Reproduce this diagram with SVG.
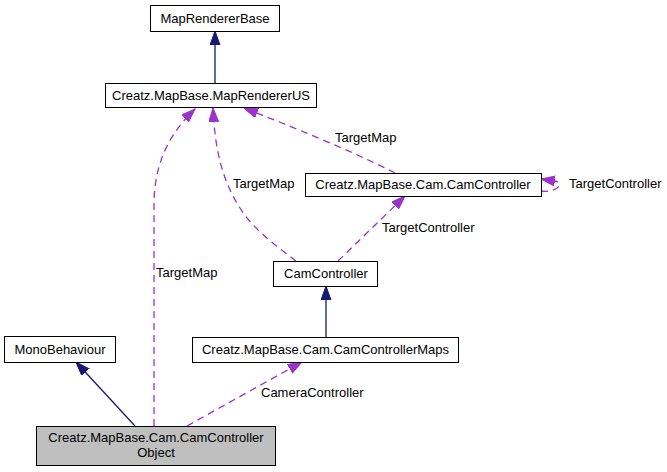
<svg xmlns="http://www.w3.org/2000/svg" width="667" height="472" viewBox="0 0 667 472">
<style>
  .box rect { fill: #ffffff; stroke: #000000; stroke-width: 1; }
  .box.cur rect { fill: #bfbfbf; }
  text { font-family: "Liberation Sans", Arial, sans-serif; font-size: 13px; fill: #000000; }
  .node text { text-anchor: middle; }
  .inh { fill: none; stroke: #191970; stroke-width: 1.3; }
  .use { fill: none; stroke: #9a32cd; stroke-width: 1.3; stroke-dasharray: 7,5; }
</style>
<defs>
  <marker id="ah-blue" markerUnits="userSpaceOnUse" markerWidth="16" markerHeight="12" refX="14" refY="5" orient="auto">
    <path d="M0,0 L14,5 L0,10 z" fill="#191970" stroke="#191970" stroke-width="1"/>
  </marker>
  <marker id="ah-purple" markerUnits="userSpaceOnUse" markerWidth="16" markerHeight="12" refX="14" refY="5" orient="auto">
    <path d="M0,0 L14,5 L0,10 z" fill="#9a32cd" stroke="#9a32cd" stroke-width="1"/>
  </marker>
</defs>
<rect width="667" height="472" fill="#ffffff"/>

<g id="connectors">
  <path class="inh" d="M215,83 L215,31" marker-end="url(#ah-blue)"/>
  <path class="inh" d="M326,337 L326,286" marker-end="url(#ah-blue)"/>
  <path class="inh" d="M135,426 L76,362" marker-end="url(#ah-blue)"/>
  <path class="use" d="M154,426 L154,205 C154,165 168,135 195,109" marker-end="url(#ah-purple)"/>
  <path class="use" d="M296,261 C276,246 252,228 240,208 C222,180 215,150 213,108" marker-end="url(#ah-purple)"/>
  <path class="use" d="M395,173 C350,150 290,126 244,108" marker-end="url(#ah-purple)"/>
  <path class="use" d="M338,261 L405,196" marker-end="url(#ah-purple)"/>
  <path class="use" d="M187,426 L302,362" marker-end="url(#ah-purple)"/>
  <path class="use" d="M541,191 C555,193 566,184 555,181 L541,179" marker-end="url(#ah-purple)"/>
  <text x="156" y="277">TargetMap</text>
  <text x="233" y="188">TargetMap</text>
  <text x="335" y="142">TargetMap</text>
  <text x="569" y="188">TargetController</text>
  <text x="382" y="232">TargetController</text>
  <text x="261" y="397">CameraController</text>
</g>

<g id="MapRendererBase" class="node box">
  <rect x="150.5" y="5.5" width="129" height="26"/>
  <text x="215" y="23">MapRendererBase</text>
</g>
<g id="MapRendererUS" class="node box">
  <rect x="105.5" y="83.5" width="211" height="24"/>
  <text x="211" y="100">Creatz.MapBase.MapRendererUS</text>
</g>
<g id="CreatzCamController" class="node box">
  <rect x="305.5" y="173.5" width="236" height="23"/>
  <text x="423" y="189">Creatz.MapBase.Cam.CamController</text>
</g>
<g id="CamController" class="node box">
  <rect x="273.5" y="261.5" width="104" height="25"/>
  <text x="326" y="278">CamController</text>
</g>
<g id="CamControllerMaps" class="node box">
  <rect x="192.5" y="337.5" width="266" height="25"/>
  <text x="325.5" y="354">Creatz.MapBase.Cam.CamControllerMaps</text>
</g>
<g id="MonoBehaviour" class="node box">
  <rect x="4.5" y="336.5" width="111" height="26"/>
  <text x="60" y="354">MonoBehaviour</text>
</g>
<g id="CamControllerObject" class="node box cur">
  <rect x="36.5" y="426.5" width="239" height="39"/>
  <text x="156" y="442">Creatz.MapBase.Cam.CamController</text>
  <text x="156" y="457">Object</text>
</g>
</svg>
